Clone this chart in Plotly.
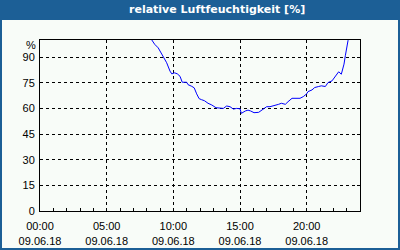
import pandas as pd
import plotly.graph_objects as go

# ---- data ----
date = "2018-06-09"
times = ["08:18", "08:25", "08:36", "08:52", "09:03", "09:15", "09:30", "09:45", "09:53",
         "10:06", "10:18", "10:30", "10:40", "11:00", "11:06", "11:23", "11:34", "11:45",
         "11:56", "12:07", "12:20", "12:36", "12:53", "13:12", "13:45", "14:00", "14:15",
         "14:30", "14:45", "15:00", "15:06", "15:24", "15:36", "15:48", "16:03", "16:24",
         "16:33", "16:42", "17:00", "17:15", "17:36", "17:54", "18:06", "18:24", "18:36",
         "18:54", "19:30", "19:45", "20:00", "20:06", "20:24", "20:36", "20:54", "21:06",
         "21:24", "21:36", "21:54", "22:06", "22:24", "22:36", "22:48", "22:54", "23:00",
         "23:06", "23:12"]
humidity = [101, 99.4, 97.5, 95.4, 93, 90.2, 86.7, 81.8, 80.2,
            80.8, 80.2, 78.8, 75.3, 75.3, 73.9, 72.9, 72, 68.5,
            65.7, 65.1, 64.5, 63, 62, 60.4, 60, 61.4, 61,
            59.6, 60, 59.8, 57.1, 58.5, 59, 58.5, 57.5, 57.7,
            58.6, 59.6, 61, 61, 61.6, 62.4, 63, 62.4, 63.9,
            65.9, 65.9, 66.9, 68.5, 69.8, 70.8, 72.2, 72.8, 73.2,
            72.8, 75.1, 76.1, 78.0, 81.4, 80.0, 85.9, 90.8, 95.7,
            99.6, 102]
y_ticks = [0, 15, 30, 45, 60, 75, 90]
title_text = "relative Luftfeuchtigkeit [%]"
unit_label = "%"

x = pd.to_datetime([f"{date} {t}" for t in times])

BLUE = "#1c5f96"
BG = "#f8fcf8"
FONT = "Liberation Sans"

fig = go.Figure()
fig.add_trace(go.Scatter(x=x, y=humidity, mode="lines",
                         line=dict(color="#0000ff", width=1), hoverinfo="skip"))

fig.update_layout(
    width=400, height=250,
    margin=dict(l=40, r=40, t=40, b=39),
    paper_bgcolor=BG, plot_bgcolor=BG,
    showlegend=False,
    font=dict(family=FONT, size=11, color="black"),
)

fig.update_xaxes(
    type="date", automargin=False,
    range=[pd.Timestamp(f"{date} 00:00"), pd.Timestamp(f"{date} 00:00") + pd.Timedelta(hours=24)],
    tick0=f"{date} 00:00", dtick=5 * 3600000,
    tickformat="%H:%M<br>%d.%m.%y",
    ticks="inside", ticklen=3, tickcolor="black",
    minor=dict(dtick=3600000, ticks="inside", ticklen=3, tickcolor="black", showgrid=False),
    showgrid=True, gridcolor="black", gridwidth=1, griddash="3px,3px",
    showline=True, linecolor="black", linewidth=1, mirror=True,
    zeroline=False, fixedrange=True, ticklabelstandoff=5,
)
fig.update_yaxes(
    range=[0, 100], automargin=False,
    tickvals=y_ticks,
    ticks="inside", ticklen=3, tickcolor="black",
    showgrid=True, gridcolor="black", gridwidth=1, griddash="3px,3px",
    showline=True, linecolor="black", linewidth=1, mirror="ticks",
    zeroline=False, fixedrange=True, ticklabelstandoff=2,
)

# header bar and frame
fig.add_shape(type="rect", xref="paper", yref="paper",
              x0=-0.125, x1=1.125, y0=1 + 20 / 171, y1=1 + 40 / 171,
              fillcolor=BLUE, line=dict(width=0), layer="below")
fig.add_shape(type="rect", xref="paper", yref="paper",
              x0=-0.125, x1=1.125, y0=-39 / 171, y1=1 + 40 / 171,
              fillcolor="rgba(0,0,0,0)", line=dict(color=BLUE, width=4))

fig.add_annotation(text=title_text, xref="paper", yref="paper",
                   x=(217 - 40) / 320, y=1 + 30 / 171, showarrow=False,
                   xanchor="center", yanchor="middle",
                   font=dict(family="DejaVu Sans", size=11, color="white", weight="bold"))
fig.add_annotation(text=unit_label, xref="paper", yref="y",
                   x=0, y=97, xshift=-2, showarrow=False,
                   xanchor="right", yanchor="middle",
                   font=dict(family=FONT, size=11, color="black"))

fig.write_html("out.html")
